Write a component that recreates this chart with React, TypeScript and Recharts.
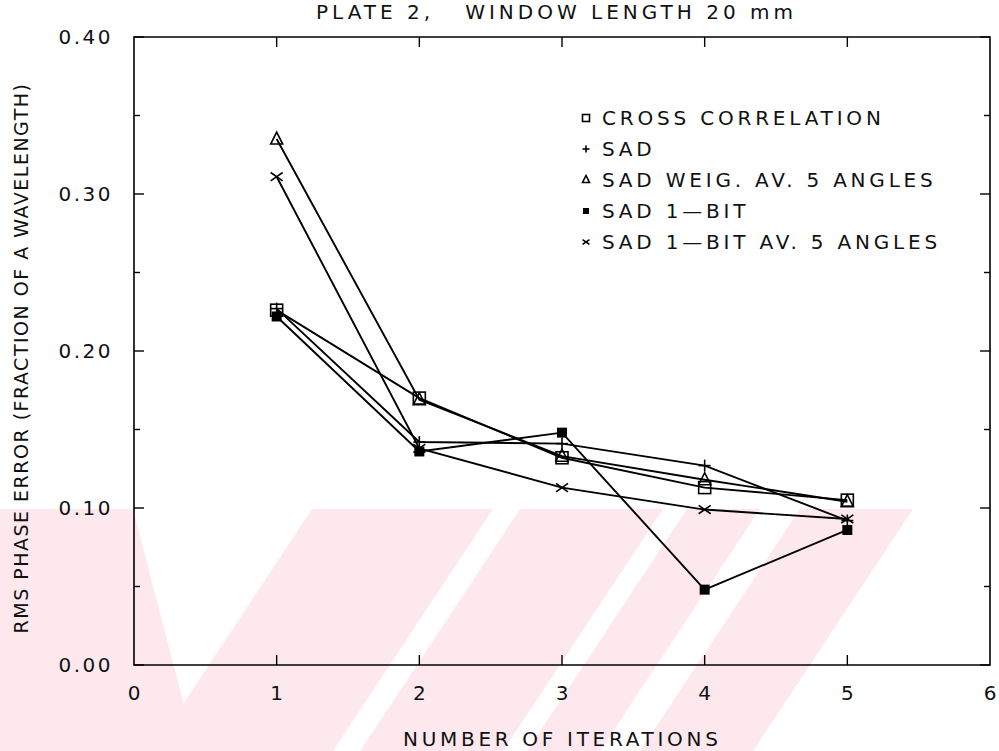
import React from "react";
import { LineChart, Line, XAxis, YAxis, ReferenceArea } from "recharts";

const iterations = [1, 2, 3, 4, 5];
const crossCorrelation = [0.226, 0.17, 0.132, 0.113, 0.105];
const sad = [0.227, 0.142, 0.141, 0.127, 0.092];
const sadWeigAv5 = [0.335, 0.169, 0.133, 0.118, 0.104];
const sad1Bit = [0.222, 0.136, 0.148, 0.048, 0.086];
const sad1BitAv5 = [0.311, 0.138, 0.113, 0.099, 0.093];

const xTicks = [0, 1, 2, 3, 4, 5, 6];
const yTicks = [0, 0.05, 0.1, 0.15, 0.2, 0.25, 0.3, 0.35, 0.4];

const series = [
  { key: "cc", name: "CROSS CORRELATION", marker: "square", values: crossCorrelation },
  { key: "sad", name: "SAD", marker: "plus", values: sad },
  { key: "weig", name: "SAD WEIG. AV. 5 ANGLES", marker: "triangle", values: sadWeigAv5 },
  { key: "bit", name: "SAD 1\u2014BIT", marker: "filled", values: sad1Bit },
  { key: "bitav", name: "SAD 1\u2014BIT AV. 5 ANGLES", marker: "cross", values: sad1BitAv5 },
];

const data = iterations.map((it, i) => {
  const row: Record<string, number> = { it };
  series.forEach((s) => (row[s.key] = s.values[i]));
  return row;
});

const PL = 134;
const PR = 990;
const PT = 37;
const PB = 665;
const FONT = "'DejaVu Sans', sans-serif";

function Marker({ kind, cx, cy, s = 6 }: { kind: string; cx: number; cy: number; s?: number }) {
  if (cx == null || cy == null) return null;
  const st = { stroke: "#000", strokeWidth: 1.6 };
  if (kind === "square") return <rect x={cx - s} y={cy - s} width={2 * s} height={2 * s} fill="none" {...st} />;
  if (kind === "filled") return <rect x={cx - s + 1} y={cy - s + 1} width={2 * s - 2} height={2 * s - 2} fill="#000" />;
  if (kind === "triangle")
    return <polygon points={`${cx},${cy - s - 1} ${cx - s},${cy + s - 1} ${cx + s},${cy + s - 1}`} fill="none" {...st} />;
  if (kind === "plus")
    return (
      <g {...st}>
        <line x1={cx - s} x2={cx + s} y1={cy} y2={cy} />
        <line x1={cx} x2={cx} y1={cy - s} y2={cy + s} />
      </g>
    );
  return (
    <g {...st}>
      <line x1={cx - s} x2={cx + s} y1={cy - s * 0.7} y2={cy + s * 0.7} />
      <line x1={cx - s} x2={cx + s} y1={cy + s * 0.7} y2={cy - s * 0.7} />
    </g>
  );
}

function YTick(props: any) {
  const v = props.payload.value;
  const y = props.y;
  const major = Math.abs(v * 10 - Math.round(v * 10)) < 1e-6;
  const len = major ? 10 : 6;
  return (
    <g stroke="#000" strokeWidth={1.4}>
      <line x1={PL} x2={PL + len} y1={y} y2={y} />
      <line x1={PR} x2={PR - len} y1={y} y2={y} />
      {major && (
        <text x={PL - 21} y={y + 7} textAnchor="end" stroke="none" fill="#111" fontSize={20} fontFamily={FONT} letterSpacing={2.5}>
          {v.toFixed(2)}
        </text>
      )}
    </g>
  );
}

function XTick(props: any) {
  const v = props.payload.value;
  const x = props.x;
  return (
    <g stroke="#000" strokeWidth={1.4}>
      {v > 0 && v < 6 && <line x1={x} x2={x} y1={PB} y2={PB - 10} />}
      {v > 0 && v < 6 && <line x1={x} x2={x} y1={PT} y2={PT + 10} />}
      <text x={x} y={PB + 35} textAnchor="middle" stroke="none" fill="#111" fontSize={20} fontFamily={FONT}>
        {v}
      </text>
    </g>
  );
}

function Watermark() {
  const pink = "#fde9ed";
  return (
    <svg width={999} height={751} style={{ position: "absolute", left: 0, top: 0 }}>
      <polygon points="0,509 133,509 196,751 0,751" fill={pink} />
      <polygon points="312,509 493,509 333,751 152,751" fill={pink} />
      <polygon points="520,509 663,509 503,751 360,751" fill={pink} />
      <polygon points="687,509 760,509 600,751 527,751" fill={pink} />
      <polygon points="800,509 913,509 753,751 640,751" fill={pink} />
    </svg>
  );
}

export default function App() {
  return (
    <div style={{ position: "relative", width: 999, height: 751, background: "#fff", fontFamily: FONT }}>
      <style>{`body{margin:0}`}</style>
      <Watermark />
      <div style={{ position: "absolute", left: 0, top: 0 }}>
        <LineChart width={999} height={751} data={data} margin={{ top: PT, right: 999 - PR, bottom: 46, left: 74 }}>
          <XAxis
            dataKey="it"
            type="number"
            domain={[0, 6]}
            ticks={xTicks}
            tick={<XTick />}
            tickLine={false}
            axisLine={false}
            height={40}
            interval={0}
          />
          <YAxis
            type="number"
            domain={[0, 0.4]}
            ticks={yTicks}
            tick={<YTick />}
            tickLine={false}
            axisLine={false}
            width={60}
            interval={0}
          />
          <ReferenceArea x1={0} x2={6} y1={0} y2={0.4} fill="none" stroke="#000" strokeWidth={1.6} />
          {series.map((s) => (
            <Line
              key={s.key}
              dataKey={s.key}
              name={s.name}
              stroke="#000"
              strokeWidth={1.9}
              isAnimationActive={false}
              dot={(p: any) => <Marker key={`${s.key}-${p.index}`} kind={s.marker} cx={p.cx} cy={p.cy} />}
              activeDot={false}
            />
          ))}
        </LineChart>
      </div>
      <div style={{ position: "absolute", left: 316, top: 0, fontSize: 20, letterSpacing: 4, color: "#111", whiteSpace: "pre" }}>
        PLATE 2,   WINDOW LENGTH 20 mm
      </div>
      <div style={{ position: "absolute", left: 403, top: 727, fontSize: 20, letterSpacing: 3.7, color: "#111", whiteSpace: "pre" }}>
        NUMBER OF ITERATIONS
      </div>
      <div
        style={{
          position: "absolute",
          left: 21,
          top: 358,
          transform: "translate(-50%, -50%) rotate(-90deg)",
          fontSize: 19,
          letterSpacing: 1.5,
          color: "#111",
          whiteSpace: "pre",
        }}
      >
        RMS PHASE ERROR (FRACTION OF A WAVELENGTH)
      </div>
      <div style={{ position: "absolute", left: 578, top: 102, fontSize: 20, letterSpacing: 3.8, color: "#111" }}>
        {series.map((s) => (
          <div key={s.key} style={{ display: "flex", alignItems: "center", height: 31 }}>
            <svg width={18} height={16} style={{ marginRight: 6 }}>
              <Marker kind={s.marker} cx={8} cy={8} s={s.marker === "filled" ? 4 : 3.5} />
            </svg>
            <span style={{ whiteSpace: "pre" }}>{s.name}</span>
          </div>
        ))}
      </div>
    </div>
  );
}
